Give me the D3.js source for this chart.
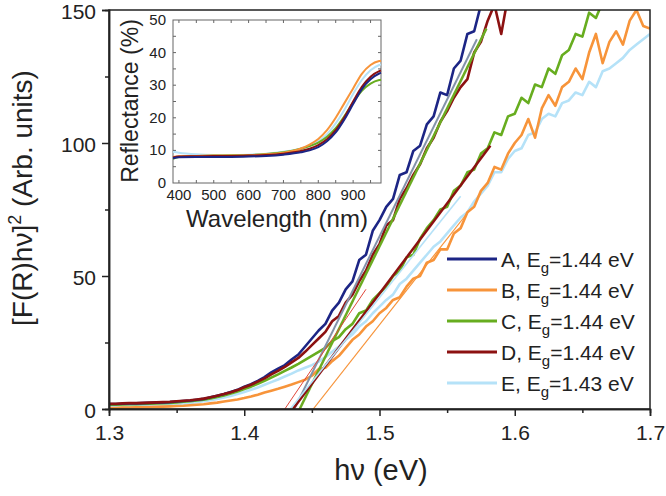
<!DOCTYPE html>
<html><head><meta charset="utf-8">
<script src="https://cdn.jsdelivr.net/npm/d3@7"></script>
<style>
body{margin:0;background:#fff;}
text{font-family:"Liberation Sans",Arial,sans-serif;fill:#222;}
</style></head>
<body><svg id="c" width="666" height="496"></svg>
<script>
// ---------- DATA ----------
const seriesNames = ["A","B","C","D","E"];
const seriesColors = ["#1c2585","#f7943a","#67ad1f","#8c1111","#b5e2f8"];
const legendLabels = ["1.44","1.44","1.44","1.44","1.43"];
const xTicks = [1.3,1.4,1.5,1.6,1.7];
const xMinor = [1.35,1.45,1.55,1.65];
const yTicks = [0,50,100,150];
const yMinor = [25,75,125];

const energy = [1.300,1.305,1.310,1.315,1.320,1.325,1.330,1.335,1.340,1.345,
1.350,1.355,1.360,1.365,1.370,1.375,1.380,1.385,1.390,1.395,
1.400,1.405,1.410,1.415,1.420,1.425,1.430,1.435,1.440,1.445,
1.450,1.455,1.460,1.465,1.470,1.475,1.480,1.485,1.490,1.495,
1.500,1.505,1.510,1.515,1.520,1.525,1.530,1.535,1.540,1.545,
1.550,1.555,1.560,1.565,1.570,1.575,1.580,1.585,1.590,1.595,
1.600,1.605,1.610,1.615,1.620,1.625,1.630,1.635,1.640,1.645,
1.650,1.655,1.660,1.665,1.670,1.675,1.680,1.685,1.690,1.695,1.700];

const valuesA = [1.9,1.9,2.0,2.1,2.1,2.2,2.3,2.4,2.5,2.6,
2.8,3.0,3.2,3.5,3.8,4.4,5.0,5.6,6.4,7.2,
8.4,9.3,10.6,12.0,13.8,15.2,16.5,18.6,20.5,23.5,
26.5,29.5,32,37,40,45,48,56,58,67,
71,76,79,88,89,97,99,107,110,119,
118,128,131,141,142,152,156];
const valuesB = [0.4,0.4,0.5,0.5,0.6,0.6,0.7,0.8,0.9,1.0,
1.1,1.2,1.4,1.6,1.8,2.1,2.4,2.8,3.2,3.6,
4.1,4.7,5.4,6.2,6.9,7.6,8.4,9.2,10.1,11.0,
12.5,15.0,15.5,18,20,23,26,28,31,33,
36,38,41,42,46,49,50,55,56,60,
60,66,68,74,76,82,85,91,90,96,
100,103,109,102,113,118,114,121,123,128,
124,134,141,130,138,142,137,146,150,144,143];
const valuesC = [1.6,1.6,1.7,1.8,1.8,1.9,2.0,2.1,2.2,2.3,
2.5,2.7,2.9,3.2,3.5,4.0,4.5,5.1,5.8,6.6,
7.5,8.4,9.5,10.6,11.8,13.0,14.3,15.6,17.0,18.5,
20.0,21.5,23,25.5,27,30,32,36,37,41,
43.5,46,50,52,57,58,64,68,71,75,
76,82,84,89,90,96,98,104,103,110,
111,117,115,122,121,128,126,133,135,141,
140,149,147,153,151,156];
const valuesD = [2.0,2.0,2.1,2.2,2.2,2.3,2.4,2.5,2.6,2.7,
2.9,3.1,3.3,3.6,3.9,4.4,5.0,5.6,6.3,7.1,
8.2,9.1,10.3,11.5,13.0,14.3,15.8,17.5,19.2,21.5,
24.0,26.5,29,33,35,40,43,48,52,58,
62,69,71,79,83,88,92,98,102,108,
112,117,121,124,134,138,146,152,141,155];
const valuesE = [1.0,1.0,1.1,1.1,1.2,1.3,1.4,1.5,1.6,1.7,
1.9,2.1,2.3,2.6,2.9,3.3,3.8,4.3,4.9,5.6,
6.4,7.2,8.1,9.1,10.1,11.1,12.2,13.3,14.5,15.5,
16.5,17.8,19.5,21.5,23.5,26,28,31,33,36,
38.5,41,43,47,49,52,55,58,61,63,
66,69,72,74,78,81,84,89,89,94,
97,98,103,104,109,111,110,115,116,119,
118,123,121,127,128,130,132,135,137,139,141];

// linear fit lines: start/end energy and value
const fitX0 = [1.437,1.441,1.430,1.436,1.451,1.434];
const fitY0 = [0,0,0,0,0,0];
const fitX1 = [1.572,1.579,1.490,1.582,1.567,1.560];
const fitY1 = [139,143,45,99,75,80];
const fitColors = ["#8393aa","#6bab22","#e0473a","#8c1111","#f7943a","#b5e2f8"];
const fitWidths = [2,2.5,1,2.5,1.2,1.6];

// inset: reflectance (%)
const wavelength = [383,400,450,500,550,600,650,700,750,775,800,825,850,875,900,925,950,975,980];
const reflA = [7.6,7.9,8.0,8.0,8.0,8.1,8.3,8.7,9.4,10.0,11.0,12.8,15.5,19.5,24.2,28.8,31.8,33.6,33.8];
const reflB = [8.0,8.2,8.3,8.4,8.4,8.5,8.8,9.3,10.6,11.8,13.5,16.2,20.0,24.5,29.0,33.5,36.2,37.4,37.5];
const reflC = [7.4,8.0,8.3,8.4,8.5,8.6,8.9,9.4,10.5,11.3,12.4,14.2,16.8,20.5,24.7,28.3,30.5,31.6,31.7];
const reflD = [7.8,8.1,8.2,8.3,8.3,8.4,8.6,9.0,9.8,10.5,11.6,13.4,16.2,20.2,25.0,29.5,32.6,34.3,34.5];
const reflE = [9.6,9.3,8.8,8.6,8.6,8.7,9.0,9.6,10.6,11.5,12.8,15.0,18.3,22.5,27.3,31.6,34.6,36.2,36.4];
const insetXTicks = [400,500,600,700,800,900];
const insetYTicks = [0,10,20,30,40,50];

// ---------- CHART ----------
const svg = d3.select("#c");
const x = d3.scaleLinear().domain([1.3,1.7]).range([109,650]);
const y = d3.scaleLinear().domain([0,150]).range([409,10]);

svg.append("defs").append("clipPath").attr("id","clipMain")
  .append("rect").attr("x",109).attr("y",10).attr("width",541).attr("height",399);

const mainVals = [valuesA,valuesB,valuesC,valuesD,valuesE];
const line = d3.line().defined(d=>d[1]!=null).x(d=>x(d[0])).y(d=>y(d[1]));
const gData = svg.append("g").attr("clip-path","url(#clipMain)");
const drawOrder = [4,1,2,0,3];
drawOrder.forEach(i=>{
  const pts = energy.map((e,k)=>[e, k<mainVals[i].length ? mainVals[i][k] : null]);
  gData.append("path").attr("d",line(pts)).attr("fill","none")
    .attr("stroke",seriesColors[i]).attr("stroke-width",2.6).attr("stroke-linejoin","round");
});
fitX0.forEach((x0,i)=>{
  gData.append("line").attr("x1",x(x0)).attr("y1",y(fitY0[i]))
    .attr("x2",x(fitX1[i])).attr("y2",y(fitY1[i]))
    .attr("stroke",fitColors[i]).attr("stroke-width",fitWidths[i]);
});

// frame
svg.append("rect").attr("x",109).attr("y",10).attr("width",541).attr("height",399)
  .attr("fill","none").attr("stroke","#222").attr("stroke-width",1.5);

// axes
svg.append("g").attr("transform","translate(0,409)")
  .call(d3.axisBottom(x).tickValues(xTicks).tickSize(7).tickPadding(9).tickFormat(d3.format(".1f")));
svg.append("g").attr("transform","translate(0,409)")
  .call(d3.axisBottom(x).tickValues(xMinor).tickSize(4).tickFormat(""));
const ay = svg.append("g").attr("transform","translate(109,0)")
  .call(d3.axisLeft(y).tickValues(yTicks).tickSize(7).tickPadding(6));
svg.append("g").attr("transform","translate(109,0)")
  .call(d3.axisLeft(y).tickValues(yMinor).tickSize(4).tickFormat(""));
svg.selectAll(".domain").attr("stroke","#222").attr("stroke-width",1.5);
svg.selectAll(".tick line").attr("stroke","#222").attr("stroke-width",1.5);
svg.selectAll(".tick text").attr("font-size",21).style("font-family","Liberation Sans, Arial, sans-serif").attr("fill","#222");
ay.selectAll(".tick text").attr("dy","0.42em");

// axis titles
svg.append("text").attr("x",381).attr("y",480).attr("text-anchor","middle")
  .attr("font-size",29).text("hν (eV)");
const yt = svg.append("text").attr("transform","translate(32,198) rotate(-90)")
  .attr("text-anchor","middle").attr("font-size",28);
yt.append("tspan").text("[F(R)hν]");
yt.append("tspan").attr("dy",-11).attr("font-size",18).text("2");
yt.append("tspan").attr("dy",11).text(" (Arb. units)");

// legend
const legY = [259,290,321,352,383];
seriesNames.forEach((n,i)=>{
  svg.append("line").attr("x1",447).attr("x2",497).attr("y1",legY[i]).attr("y2",legY[i])
    .attr("stroke",seriesColors[i]).attr("stroke-width",3);
  const t = svg.append("text").attr("x",501).attr("y",legY[i]+7.5).attr("font-size",21);
  t.append("tspan").text(n+", E");
  t.append("tspan").attr("dy",6).attr("font-size",15).text("g");
  t.append("tspan").attr("dy",-6).text("="+legendLabels[i]+" eV");
});

// ---------- INSET ----------
const ix = d3.scaleLinear().domain([383,980]).range([173,381]);
const iy = d3.scaleLinear().domain([0,50]).range([183,20]);
const gi = svg.append("g");
gi.append("rect").attr("x",173).attr("y",20).attr("width",208).attr("height",163)
  .attr("fill","#fff").attr("stroke","#666").attr("stroke-width",1);
const reflVals = [reflA,reflB,reflC,reflD,reflE];
const iline = d3.line().curve(d3.curveMonotoneX).x(d=>ix(d[0])).y(d=>iy(d[1]));
[4,2,1,3,0].forEach(i=>{
  gi.append("path").attr("d",iline(wavelength.map((w,k)=>[w,reflVals[i][k]])))
    .attr("fill","none").attr("stroke",seriesColors[i]).attr("stroke-width",2);
});
const ixAll = d3.range(400,980,50), iyAll = d3.range(5,50,5);
ixAll.forEach(w=>{
  gi.append("line").attr("x1",ix(w)).attr("x2",ix(w)).attr("y1",183).attr("y2",180).attr("stroke","#666");
  gi.append("line").attr("x1",ix(w)).attr("x2",ix(w)).attr("y1",20).attr("y2",23).attr("stroke","#666");
});
iyAll.forEach(v=>{
  gi.append("line").attr("x1",173).attr("x2",176).attr("y1",iy(v)).attr("y2",iy(v)).attr("stroke","#666");
  gi.append("line").attr("x1",381).attr("x2",378).attr("y1",iy(v)).attr("y2",iy(v)).attr("stroke","#666");
});
insetXTicks.forEach(w=>{
  gi.append("text").attr("x",ix(w)).attr("y",200).attr("text-anchor","middle").attr("font-size",15).text(w);
});
insetYTicks.forEach(v=>{
  gi.append("text").attr("x",166).attr("y",iy(v)+5).attr("text-anchor","end").attr("font-size",15).text(v);
});
gi.append("text").attr("x",277).attr("y",227).attr("text-anchor","middle").attr("font-size",24).text("Wavelength (nm)");
gi.append("text").attr("transform","translate(138,101) rotate(-90)").attr("text-anchor","middle")
  .attr("font-size",23).text("Reflectance (%)");
</script></body></html>
